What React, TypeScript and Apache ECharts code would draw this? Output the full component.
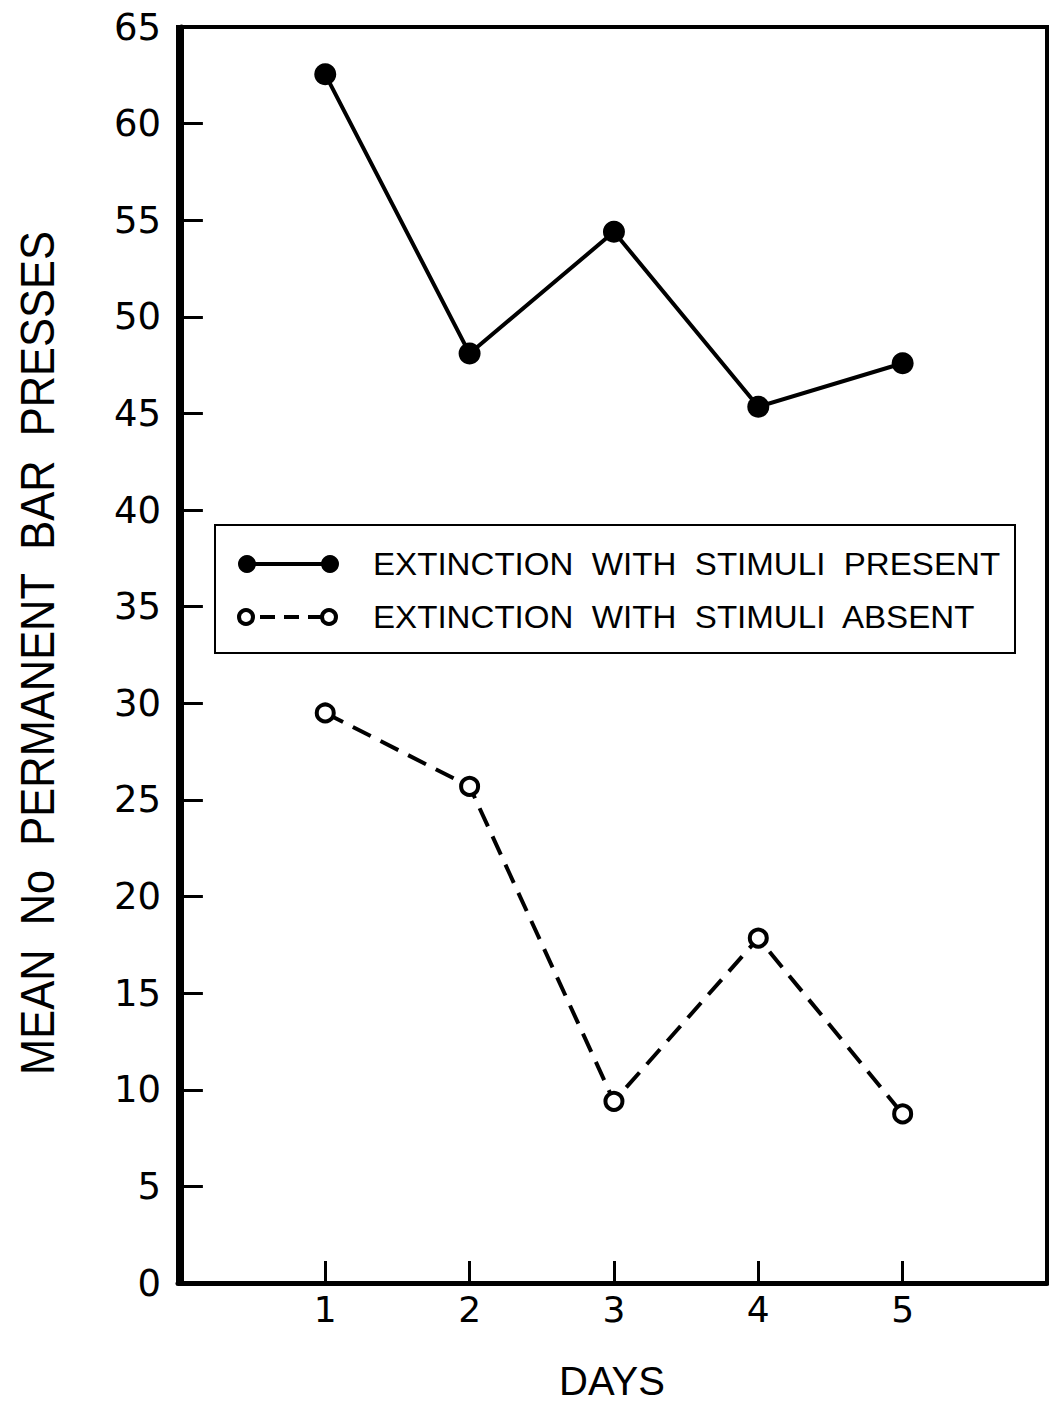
import React, { useEffect, useRef } from "react";
import * as echarts from "echarts";

// Days of extinction
const days = [1, 2, 3, 4, 5];
// Mean number of permanent bar presses per day
const stimuliPresent = [62.55, 48.1, 54.4, 45.35, 47.6];
const stimuliAbsent = [29.5, 25.7, 9.4, 17.85, 8.75];
// Axis setup
const yTicks = { min: 0, max: 65, interval: 5 };
const legendLabels = [
  "EXTINCTION  WITH  STIMULI  PRESENT",
  "EXTINCTION  WITH  STIMULI  ABSENT",
];
const yTitle = "MEAN  No  PERMANENT  BAR  PRESSES";
const xTitle = "DAYS";

const NUM_FONT = "DejaVu Sans";
const TXT_FONT = "Liberation Sans";

export default function App() {
  const ref = useRef<HTMLDivElement>(null);

  useEffect(() => {
    if (!ref.current) return;
    const chart = echarts.init(ref.current, null, { renderer: "svg" });

    const legendBox = { x: 215, y: 525, w: 800, h: 128 };
    const row1 = 564;
    const row2 = 617;

    chart.setOption({
      animation: false,
      backgroundColor: "#fff",
      grid: {
        left: 178,
        top: 27,
        right: 2,
        bottom: 120,
        show: true,
        borderColor: "#000",
        borderWidth: 4,
        containLabel: false,
      },
      xAxis: {
        type: "value",
        min: -0.02,
        max: 6,
        axisLine: { show: true, lineStyle: { color: "#000", width: 5 } },
        axisTick: {
          show: true,
          inside: true,
          length: 22,
          customValues: days,
          lineStyle: { color: "#000", width: 3 },
        },
        axisLabel: {
          show: true,
          customValues: days,
          margin: 8,
          color: "#000",
          fontFamily: NUM_FONT,
          fontSize: 36,
        },
        splitLine: { show: false },
      },
      yAxis: {
        type: "value",
        min: yTicks.min,
        max: yTicks.max,
        interval: yTicks.interval,
        axisLine: { show: true, lineStyle: { color: "#000", width: 5 } },
        axisTick: {
          show: true,
          inside: true,
          length: 22,
          lineStyle: { color: "#000", width: 3 },
        },
        axisLabel: {
          margin: 17,
          color: "#000",
          fontFamily: NUM_FONT,
          fontSize: 37,
        },
        splitLine: { show: false },
      },
      series: [
        {
          name: legendLabels[0],
          type: "line",
          data: days.map((d, i) => [d, stimuliPresent[i]]),
          symbol: "circle",
          symbolSize: 22,
          lineStyle: { color: "#000", width: 4 },
          itemStyle: { color: "#000", borderColor: "#000", borderWidth: 0 },
          z: 3,
        },
        {
          name: legendLabels[1],
          type: "line",
          data: days.map((d, i) => [d, stimuliAbsent[i]]),
          symbol: "circle",
          symbolSize: 17,
          lineStyle: { color: "#000", width: 4, type: [20, 11] },
          itemStyle: { color: "#fff", borderColor: "#000", borderWidth: 4 },
          z: 3,
        },
      ],
      graphic: [
        // y-axis title
        {
          type: "text",
          x: 38,
          y: 653,
          rotation: Math.PI / 2,
          scaleX: 0.905,
          style: {
            text: yTitle,
            fontFamily: TXT_FONT,
            fontSize: 48,
            fill: "#000",
            align: "center",
            verticalAlign: "middle",
          },
        },
        // x-axis title
        {
          type: "text",
          x: 612,
          y: 1381,
          style: {
            text: xTitle,
            fontFamily: TXT_FONT,
            fontSize: 40,
            fill: "#000",
            align: "center",
            verticalAlign: "middle",
          },
        },
        // legend
        {
          type: "rect",
          shape: { x: legendBox.x, y: legendBox.y, width: legendBox.w, height: legendBox.h },
          style: { fill: "#fff", stroke: "#000", lineWidth: 2 },
          z: 10,
        },
        {
          type: "line",
          shape: { x1: 247, y1: row1, x2: 330, y2: row1 },
          style: { stroke: "#000", lineWidth: 4 },
          z: 11,
        },
        { type: "circle", shape: { cx: 247, cy: row1, r: 9 }, style: { fill: "#000" }, z: 12 },
        { type: "circle", shape: { cx: 330, cy: row1, r: 9 }, style: { fill: "#000" }, z: 12 },
        {
          type: "line",
          shape: { x1: 254, y1: row2, x2: 322, y2: row2 },
          style: { stroke: "#000", lineWidth: 4, lineDash: [15, 9], lineDashOffset: -6 },
          z: 11,
        },
        {
          type: "circle",
          shape: { cx: 246, cy: row2, r: 7 },
          style: { fill: "#fff", stroke: "#000", lineWidth: 4 },
          z: 12,
        },
        {
          type: "circle",
          shape: { cx: 329, cy: row2, r: 7 },
          style: { fill: "#fff", stroke: "#000", lineWidth: 4 },
          z: 12,
        },
        {
          type: "text",
          x: 373,
          y: row1,
          scaleX: 1.035,
          style: {
            text: legendLabels[0],
            fontFamily: TXT_FONT,
            fontSize: 32,
            fill: "#000",
            align: "left",
            verticalAlign: "middle",
          },
          z: 12,
        },
        {
          type: "text",
          x: 373,
          y: row2,
          scaleX: 1.035,
          style: {
            text: legendLabels[1],
            fontFamily: TXT_FONT,
            fontSize: 32,
            fill: "#000",
            align: "left",
            verticalAlign: "middle",
          },
          z: 12,
        },
      ],
    });

    return () => chart.dispose();
  }, []);

  return (
    <div
      ref={ref}
      style={{ position: "fixed", left: 0, top: 0, width: 1049, height: 1403, background: "#fff" }}
    />
  );
}
